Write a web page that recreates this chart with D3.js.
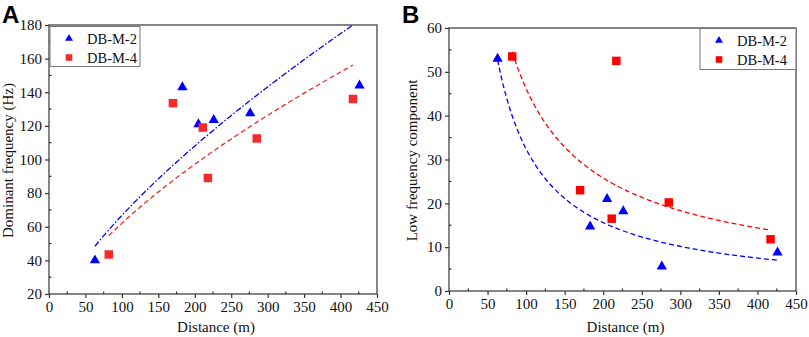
<!DOCTYPE html>
<html>
<head>
<meta charset="utf-8">
<script src="https://cdn.jsdelivr.net/npm/d3@7"></script>
<style>
  body { margin: 0; background: #fff; }
  svg { display: block; }
</style>
</head>
<body>
<svg id="chart" width="809" height="337"></svg>
<script>
// Panel A: dominant frequency vs distance
const distA2 = [63, 183, 205, 226, 276, 426];
const freqA2 = [40, 143, 121, 123.5, 127.5, 144];
const distA4 = [82, 170, 211, 218, 285, 417];
const freqA4 = [43.5, 133.5, 119, 89, 112.5, 136];

// Panel B: low frequency component vs distance
const distB2 = [63, 183, 205, 226, 276, 426];
const lowB2 = [53, 14.7, 21, 18.2, 5.6, 8.8];
const distB4 = [82, 170, 211, 217, 285, 417];
const lowB4 = [53.5, 23, 16.5, 52.5, 20.2, 11.8];

const seriesNames = ['DB-M-2', 'DB-M-4'];
const xTicks = [0, 50, 100, 150, 200, 250, 300, 350, 400, 450];
const yTicksA = [20, 40, 60, 80, 100, 120, 140, 160, 180];
const yTicksB = [0, 10, 20, 30, 40, 50, 60];

const BLUE = '#0000ff';
const RED = '#f52a2a';
const SERIF = '"Liberation Serif", "Times New Roman", serif';

const svg = d3.select('#chart');

// power fit y = a*x^b via least squares in log space
function powerFit(xs, ys) {
  const lx = xs.map(Math.log), ly = ys.map(Math.log);
  const mx = d3.mean(lx), my = d3.mean(ly);
  let sxy = 0, sxx = 0;
  lx.forEach((v, i) => { sxy += (v - mx) * (ly[i] - my); sxx += (v - mx) * (v - mx); });
  const b = sxy / sxx;
  const a = Math.exp(my - b * mx);
  const [lo, hi] = d3.extent(xs);
  return d3.range(0, 101).map(i => {
    const x = lo + (hi - lo) * i / 100;
    return [x, a * Math.pow(x, b)];
  });
}

function drawPanel(cfg) {
  const x = d3.scaleLinear().domain([0, 450]).range([cfg.left, cfg.right]);
  const y = d3.scaleLinear().domain(cfg.yDomain).range([cfg.bottom, cfg.top]);
  const g = svg.append('g');

  const clipId = 'clip-' + cfg.id;
  svg.append('clipPath').attr('id', clipId)
    .append('rect')
    .attr('x', cfg.left).attr('y', cfg.top)
    .attr('width', cfg.right - cfg.left).attr('height', cfg.bottom - cfg.top);

  // frame
  g.append('rect')
    .attr('x', cfg.left).attr('y', cfg.top)
    .attr('width', cfg.right - cfg.left).attr('height', cfg.bottom - cfg.top)
    .attr('fill', 'none').attr('stroke', '#444').attr('stroke-width', 1.3);

  // x axis
  const xAxis = g.append('g').attr('transform', `translate(0,${cfg.bottom})`)
    .call(d3.axisBottom(x).tickValues(xTicks).tickSize(4).tickPadding(3).tickFormat(d3.format('d')));
  xAxis.select('.domain').remove();
  xAxis.selectAll('line').attr('stroke', '#333').attr('stroke-width', 1.2);
  xAxis.selectAll('text').style('font-size', '15px').style('font-family', SERIF).attr('fill', '#111');
  const xMinor = d3.range(25, 450, 50);
  g.selectAll(null).data(xMinor).join('line')
    .attr('x1', d => x(d)).attr('x2', d => x(d))
    .attr('y1', cfg.bottom).attr('y2', cfg.bottom - 2.5)
    .attr('stroke', '#333').attr('stroke-width', 1.2);

  // y axis
  const yAxis = g.append('g').attr('transform', `translate(${cfg.left},0)`)
    .call(d3.axisLeft(y).tickValues(cfg.yTicks).tickSize(4).tickPadding(3).tickFormat(d3.format('d')));
  yAxis.select('.domain').remove();
  yAxis.selectAll('line').attr('stroke', '#333').attr('stroke-width', 1.2);
  yAxis.selectAll('text').style('font-size', '15px').style('font-family', SERIF).attr('fill', '#111');
  const step = cfg.yTicks[1] - cfg.yTicks[0];
  const yMinor = d3.range(cfg.yDomain[0] + step / 2, cfg.yDomain[1], step);
  g.selectAll(null).data(yMinor).join('line')
    .attr('x1', cfg.left).attr('x2', cfg.left + 2.5)
    .attr('y1', d => y(d)).attr('y2', d => y(d))
    .attr('stroke', '#333').attr('stroke-width', 1.2);

  // titles
  g.append('text')
    .attr('x', (cfg.left + cfg.right) / 2 + 3).attr('y', 332)
    .attr('text-anchor', 'middle')
    .style('font-size', '15px').style('font-family', SERIF).attr('fill', '#111')
    .text('Distance (m)');
  g.append('text')
    .attr('transform', `translate(${cfg.yTitleX},${(cfg.top + cfg.bottom) / 2 + 1}) rotate(-90)`)
    .attr('text-anchor', 'middle')
    .style('font-size', '15px').style('font-family', SERIF).attr('fill', '#111')
    .text(cfg.yTitle);
  g.append('text')
    .attr('x', cfg.labelX).attr('y', 23)
    .style('font-size', '24px').style('font-weight', 'bold')
    .style('font-family', '"Liberation Sans", Arial, sans-serif')
    .text(cfg.label);

  // fit lines
  const line = d3.line().x(d => x(d[0])).y(d => y(d[1]));
  const fits = g.append('g').attr('clip-path', `url(#${clipId})`);
  cfg.series.forEach(s => {
    fits.append('path')
      .attr('d', line(powerFit(s.xs, s.ys)))
      .attr('fill', 'none').attr('stroke', s.color).attr('stroke-width', 1.3)
      .attr('stroke-dasharray', s.dash);
  });

  // points
  cfg.series.forEach(s => {
    g.selectAll(null).data(s.xs.map((d, i) => [d, s.ys[i]])).join('path')
      .attr('transform', d => `translate(${x(d[0])},${y(d[1])})`)
      .attr('d', d3.symbol().type(s.symbol).size(s.size)())
      .attr('fill', s.color);
  });

  // legend
  const lg = g.append('g');
  lg.append('rect')
    .attr('x', cfg.legend.x).attr('y', cfg.legend.y)
    .attr('width', cfg.legend.w).attr('height', cfg.legend.h)
    .attr('fill', '#fff').attr('stroke', '#777').attr('stroke-width', 1);
  cfg.series.forEach((s, i) => {
    const cy = cfg.legend.y + 12 + i * 19;
    lg.append('path')
      .attr('transform', `translate(${cfg.legend.x + 19},${cy})`)
      .attr('d', d3.symbol().type(s.symbol).size(s.size * 0.6)())
      .attr('fill', s.color);
    lg.append('text')
      .attr('x', cfg.legend.x + 37).attr('y', cy + 5)
      .style('font-size', '14.5px').style('font-family', SERIF).attr('fill', '#111')
      .text(seriesNames[i]);
  });
}

drawPanel({
  id: 'a', label: 'A', labelX: 2,
  left: 49, right: 377, top: 25, bottom: 294,
  yDomain: [20, 180], yTicks: yTicksA,
  yTitle: 'Dominant frequency (Hz)', yTitleX: 13,
  legend: { x: 50, y: 26.5, w: 90, h: 40 },
  series: [
    { xs: distA2, ys: freqA2, color: BLUE, symbol: d3.symbolTriangle, size: 46, dash: '6,2,1.5,2' },
    { xs: distA4, ys: freqA4, color: RED, symbol: d3.symbolSquare, size: 72, dash: '5,3' }
  ]
});

drawPanel({
  id: 'b', label: 'B', labelX: 402,
  left: 449, right: 796, top: 28, bottom: 291,
  yDomain: [0, 60], yTicks: yTicksB,
  yTitle: 'Low frequency component', yTitleX: 417,
  legend: { x: 700, y: 28.5, w: 96, h: 41 },
  series: [
    { xs: distB2, ys: lowB2, color: BLUE, symbol: d3.symbolTriangle, size: 46, dash: '5,3' },
    { xs: distB4, ys: lowB4, color: '#ff0000', symbol: d3.symbolSquare, size: 72, dash: '5,3' }
  ]
});
</script>
</body>
</html>
